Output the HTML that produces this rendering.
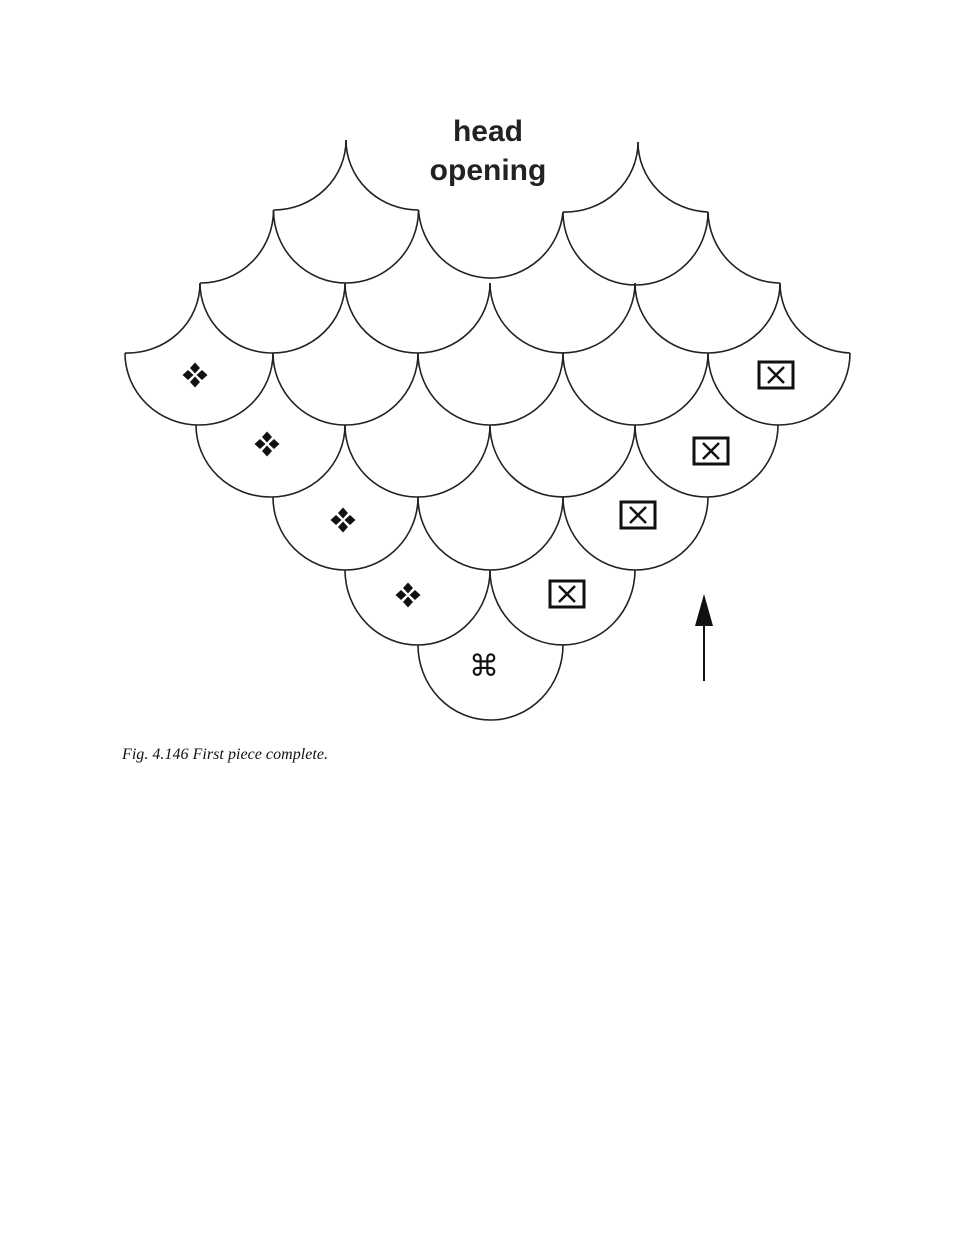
<!DOCTYPE html>
<html><head><meta charset="utf-8"><style>
html,body{margin:0;padding:0;background:#fff;}
svg{display:block;}
</style></head><body>
<svg width="970" height="1255" viewBox="0 0 970 1255" xmlns="http://www.w3.org/2000/svg">
<defs>
<g id="dia" fill="#111">
<path d="M0,-12.5 L5,-7 L0,-1.5 L-5,-7Z"/>
<path d="M0,12.5 L5,7 L0,1.5 L-5,7Z"/>
<path d="M-12.5,0 L-7,5 L-1.5,0 L-7,-5Z"/>
<path d="M12.5,0 L7,5 L1.5,0 L7,-5Z"/>
</g>
<g id="bx" fill="none" stroke="#111">
<rect x="-17" y="-13" width="34" height="26" stroke-width="3"/>
<path d="M-8,-8 L8,8 M8,-8 L-8,8" stroke-width="2.5"/>
</g>
</defs>
<g fill="none" stroke="#222" stroke-width="1.6">
<path d="M346,140 A72.5,70 0 0 1 273.5,210"/>
<path d="M346,140 A72.5,70 0 0 0 418.5,210"/>
<path d="M638,142 A72.5,70 0 0 1 563,212"/>
<path d="M638,142 A72.5,70 0 0 0 708,212"/>
<path d="M273.5,210 A72.5,73 0 0 1 200,283"/>
<path d="M273.5,210 A72.5,73 0 0 0 418.5,210"/>
<path d="M418.5,210 A72.5,73 0 0 0 563,212"/>
<path d="M563,212 A72.5,73 0 0 0 708,212"/>
<path d="M708,212 A72.5,73 0 0 0 780,283"/>
<path d="M200,283 A72.5,70 0 0 1 125,353"/>
<path d="M200,283 A72.5,70 0 0 0 345,283"/>
<path d="M345,283 A72.5,70 0 0 0 490,283"/>
<path d="M490,283 A72.5,70 0 0 0 635,283"/>
<path d="M635,283 A72.5,70 0 0 0 780,283"/>
<path d="M780,283 A72.5,70 0 0 0 850,353"/>
<path d="M125,353 A74,72 0 0 0 273,353"/>
<path d="M273,353 A72.5,72 0 0 0 418,353"/>
<path d="M418,353 A72.5,72 0 0 0 563,353"/>
<path d="M563,353 A72.5,72 0 0 0 708,353"/>
<path d="M708,353 A71,72 0 0 0 850,353"/>
<path d="M196,425 A74.5,72 0 0 0 345,425"/>
<path d="M345,425 A72.5,72 0 0 0 490,425"/>
<path d="M490,425 A72.5,72 0 0 0 635,425"/>
<path d="M635,425 A71.5,72 0 0 0 778,425"/>
<path d="M273,497 A72.5,73 0 0 0 418,497"/>
<path d="M418,497 A72.5,73 0 0 0 563,497"/>
<path d="M563,497 A72.5,73 0 0 0 708,497"/>
<path d="M345,570 A72.5,75 0 0 0 490,570"/>
<path d="M490,570 A72.5,75 0 0 0 635,570"/>
<path d="M418,645 A72.5,75 0 0 0 563,645"/>
</g>
<use href="#dia" x="195" y="375"/>
<use href="#dia" x="267" y="444"/>
<use href="#dia" x="343" y="520"/>
<use href="#dia" x="408" y="595"/>
<use href="#bx" x="776" y="375"/>
<use href="#bx" x="711" y="451"/>
<use href="#bx" x="638" y="515"/>
<use href="#bx" x="567" y="594"/>
<text x="484" y="676" font-family="DejaVu Sans, sans-serif" font-size="30" text-anchor="middle" fill="#111">⌘</text>
<line x1="704" y1="681" x2="704" y2="615" stroke="#111" stroke-width="2"/>
<path d="M704,594 L695,626 L713,626Z" fill="#111"/>
<text x="488" y="141" font-family="Liberation Sans, sans-serif" font-weight="bold" font-size="30" text-anchor="middle" fill="#222">head</text>
<text x="488" y="180" font-family="Liberation Sans, sans-serif" font-weight="bold" font-size="30" text-anchor="middle" fill="#222">opening</text>
<text x="122" y="759" font-family="Liberation Serif, serif" font-style="italic" font-size="16" fill="#111" textLength="206">Fig. 4.146 First piece complete.</text>
</svg>
</body></html>
